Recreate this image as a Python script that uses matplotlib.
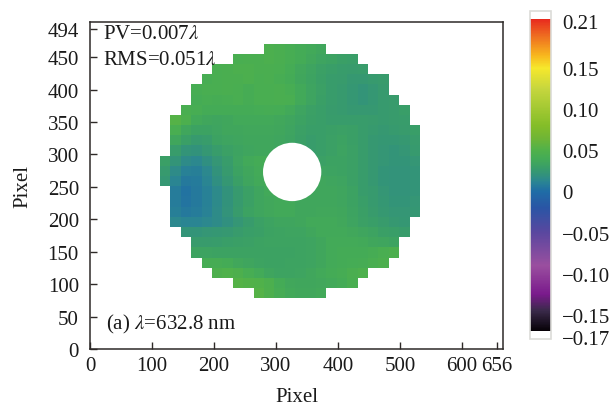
import numpy as np
import matplotlib
matplotlib.use("Agg")
import matplotlib.pyplot as plt
from matplotlib.colors import LinearSegmentedColormap, Normalize
from matplotlib.patches import Ellipse
from matplotlib.transforms import ScaledTranslation

plt.rcParams['font.family'] = ['Liberation Serif', 'DejaVu Serif']
plt.rcParams['mathtext.fontset'] = 'stix'

x_ticks = [0, 100, 200, 300, 400, 500, 600, 656]
y_ticks = [0, 50, 100, 150, 200, 250, 300, 350, 400, 450, 494]
cbar_ticks = [-0.17, -0.15, -0.10, -0.05, 0, 0.05, 0.10, 0.15, 0.21]
cbar_labels = ['\u22120.17', '\u22120.15', '\u22120.10', '\u22120.05', '0', '0.05', '0.10', '0.15', '0.21']

# first filled column of every row, top row first
row_start = [10, 7, 5, 4, 3, 3, 2, 1, 1, 1, 1, 0, 0, 0, 1, 1, 1, 1, 2, 3, 3, 4, 5, 7, 9]

# wavefront error, in 0.001 lambda
row_values = [
    [46, 45, 43, 40, 38, 36],
    [44, 45, 45, 46, 45, 43, 40, 37, 34, 32, 30, 29],
    [44, 45, 46, 46, 45, 45, 44, 41, 37, 34, 31, 29, 28, 27, 28],
    [43, 44, 45, 45, 46, 44, 45, 43, 40, 36, 33, 30, 28, 27, 25, 25, 26, 27],
    [43, 44, 44, 45, 44, 42, 44, 44, 45, 43, 38, 34, 31, 28, 26, 24, 22, 24, 26],
    [41, 43, 42, 43, 44, 42, 44, 44, 45, 44, 38, 34, 30, 28, 26, 24, 22, 24, 26, 27],
    [44, 43, 40, 40, 40, 40, 40, 41, 42, 41, 38, 34, 31, 29, 27, 26, 25, 25, 25, 26, 27, 29],
    [52, 46, 38, 36, 35, 36, 38, 38, 38, 38, 37, 35, 32, 30, 29, 28, 28, 28, 28, 27, 26, 27, 28],
    [44, 36, 32, 32, 34, 36, 36, 37, 37, 37, 36, 34, 31, 29, 29, 30, 31, 30, 28, 26, 25, 26, 27, 29],
    [36, 30, 26, 28, 32, 34, 35, 36, 36, 36, 35, 33, 30, 28, 29, 31, 32, 30, 28, 25, 24, 24, 25, 27],
    [28, 22, 20, 24, 28, 31, 33, 35, 36, 36, 35, 33, 30, 28, 29, 31, 33, 31, 28, 25, 23, 22, 23, 26],
    [30, 22, 16, 14, 18, 23, 28, 34, 38, 40, 40, 38, 35, 32, 32, 31, 32, 32, 31, 28, 25, 23, 22, 22, 23],
    [26, 16, 10, 9, 14, 20, 26, 32, 36, 39, 40, 39, 37, 35, 34, 34, 33, 32, 31, 28, 25, 22, 21, 21, 22],
    [24, 12, 6, 7, 12, 18, 24, 30, 35, 38, 39, 39, 38, 36, 36, 36, 35, 34, 31, 28, 25, 22, 21, 21, 22],
    [8, 3, 6, 10, 15, 20, 26, 31, 35, 38, 39, 38, 37, 36, 36, 36, 35, 32, 28, 26, 23, 21, 21, 22],
    [8, 4, 6, 10, 15, 20, 26, 31, 35, 37, 38, 38, 36, 36, 36, 36, 35, 32, 29, 26, 24, 22, 22, 23],
    [9, 6, 8, 11, 16, 21, 27, 32, 35, 37, 38, 38, 36, 36, 37, 37, 36, 33, 30, 27, 25, 23, 23, 24],
    [14, 12, 12, 14, 16, 19, 23, 27, 31, 33, 35, 35, 36, 38, 38, 38, 37, 34, 31, 29, 27, 25, 24],
    [22, 22, 23, 24, 25, 27, 29, 30, 32, 33, 34, 34, 36, 38, 38, 38, 37, 35, 33, 30, 29, 28],
    [27, 27, 28, 29, 30, 31, 32, 33, 33, 33, 33, 34, 36, 39, 39, 39, 38, 36, 35, 33],
    [33, 33, 32, 32, 32, 32, 32, 32, 32, 32, 33, 34, 36, 39, 40, 40, 40, 42, 44, 46],
    [42, 42, 40, 37, 35, 33, 32, 32, 33, 33, 34, 36, 39, 40, 41, 42, 44, 46],
    [47, 49, 47, 43, 39, 35, 33, 33, 34, 36, 38, 40, 42, 45, 48],
    [52, 51, 50, 46, 40, 37, 36, 36, 37, 38, 40, 44],
    [52, 47, 42, 38, 37, 37, 38],
]

# value -> colour stops of the colour bar
cmap_values = [-0.17, -0.145, -0.125, -0.09, -0.05, -0.02, 0, 0.012, 0.02, 0.03, 0.04, 0.05, 0.065, 0.08, 0.125, 0.15, 0.165, 0.19, 0.21]
cmap_colors = ['#050005', '#3a2a4a', '#7a1a8c', '#9a4f9f', '#5a479f', '#2a55a5', '#1f6ca6', '#2a8593', '#32927c',
               '#3a9f66', '#44ab56', '#50b14a', '#70b535', '#84bd28', '#c6d63e', '#f6e82c', '#f8b81e', '#ee6a20', '#e8281e']

vmin, vmax = cbar_ticks[0], cbar_ticks[-1]
norm = Normalize(vmin, vmax)
cmap = LinearSegmentedColormap.from_list(
    'wave', [(norm(v), c) for v, c in zip(cmap_values, cmap_colors)], N=512)
cmap.set_over('white')
cmap.set_under('white')

field = np.full((25, 25), np.nan)
for i, (start, vals) in enumerate(zip(row_start, row_values)):
    field[i, start:start + len(vals)] = np.array(vals) / 1000

x_edges = np.linspace(113, 532, 26)
y_edges = np.linspace(471, 78, 26)

ink = '#2e2a28'
text_col = '#1a1a1a'
fig_size = 15
fig = plt.figure(figsize=(6.12, 4.06), dpi=100)
ax = fig.add_axes([90 / 612, 56 / 406, 413 / 612, 327.5 / 406])
mesh = ax.pcolormesh(x_edges, y_edges, np.ma.masked_invalid(field), cmap=cmap, norm=norm)

# central hole of the mirror
ax.add_patch(Ellipse((326, 273), 94, 90, facecolor='white', edgecolor='none'))

ax.set_xlim(0, 666)
ax.set_ylim(0, 505)
ax.set_xticks(x_ticks)
ax.set_yticks(y_ticks)
ax.tick_params(axis='both', direction='in', length=5, width=1, color=ink, labelsize=fig_size, labelcolor=text_col)
ax.tick_params(axis='x', pad=5)
ax.tick_params(axis='y', pad=8)
for s in ax.spines.values():
    s.set_linewidth(1.1)
    s.set_color(ink)
ax.set_xlabel('Pixel', fontsize=fig_size, labelpad=9, color=text_col)
ax.set_ylabel('Pixel', fontsize=fig_size, labelpad=11, color=text_col)

ax.text(21, 486, r'PV=0.007$\lambda$', fontsize=fig_size, va='center', color=text_col)
ax.text(21, 446, r'RMS=0.051$\lambda$', fontsize=fig_size, va='center', color=text_col)
ax.text(26, 39, r'(a) $\lambda$=632.8 nm', fontsize=fig_size, va='center', color=text_col)

# colour bar, the empty ends are the white extensions
cax = fig.add_axes([530 / 612, (406 - 340) / 406, 21 / 612, 328 / 406])
cb = fig.colorbar(mesh, cax=cax, extend='both', extendrect=True, extendfrac=0.024)
cb.set_ticks(cbar_ticks)
cb.set_ticklabels(cbar_labels)
cb.ax.tick_params(length=0, pad=8, labelsize=fig_size, labelcolor=text_col)
cb.outline.set_edgecolor('#dcdcd8')
cb.outline.set_linewidth(1.2)
cb.minorticks_off()

# end labels sit a little lower than their values in the reference
tick_labels = cb.ax.get_yticklabels()
for lab, dy in [(tick_labels[0], -4), (tick_labels[-1], -2)]:
    lab.set_transform(lab.get_transform() + ScaledTranslation(0, dy / 72, fig.dpi_scale_trans))

fig.savefig('out.png', dpi=100)
